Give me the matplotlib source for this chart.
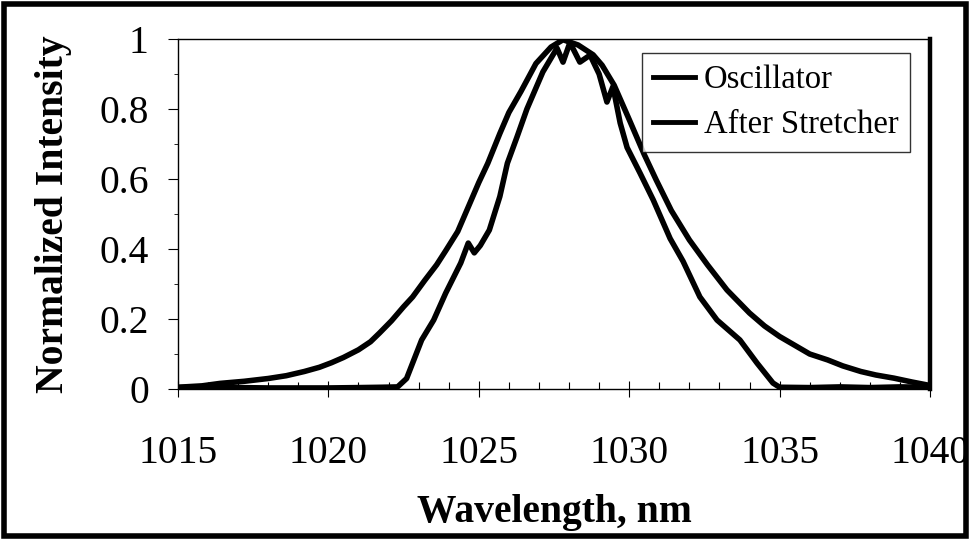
import matplotlib
matplotlib.use("Agg")
import matplotlib.pyplot as plt
from matplotlib.patches import Rectangle
from matplotlib.ticker import MultipleLocator

# 谱线数据
osc_wl = [1015.0, 1015.8, 1016.4, 1017.2, 1018.0, 1018.6, 1019.2, 1019.7, 1020.1,
          1020.5, 1021.0, 1021.4, 1021.7, 1022.1, 1022.5, 1022.8, 1023.2, 1023.6,
          1023.9, 1024.3, 1024.6, 1025.0, 1025.3, 1025.7, 1026.0, 1026.4, 1026.9,
          1027.4, 1027.8, 1028.3, 1028.8, 1029.1, 1029.5, 1030.0, 1030.5, 1030.9,
          1031.4, 1032.0, 1032.6, 1033.25, 1034.0, 1034.5, 1035.0, 1035.5, 1036.0,
          1036.6, 1037.1, 1037.7, 1038.2, 1038.8, 1039.4, 1040.0]
osc_int = [0.005, 0.009, 0.016, 0.022, 0.030, 0.038, 0.050, 0.062, 0.075,
           0.090, 0.112, 0.135, 0.160, 0.195, 0.235, 0.263, 0.310, 0.355,
           0.395, 0.450, 0.510, 0.590, 0.645, 0.730, 0.790, 0.850, 0.930,
           0.977, 0.998, 0.983, 0.955, 0.925, 0.868, 0.770, 0.670, 0.597,
           0.510, 0.426, 0.355, 0.283, 0.217, 0.180, 0.150, 0.125, 0.100,
           0.083, 0.066, 0.050, 0.040, 0.031, 0.020, 0.010]

str_wl = [1015.0, 1016.0, 1017.0, 1018.0, 1019.0, 1020.0, 1021.0, 1021.8, 1022.3,
          1022.6, 1022.8, 1023.1, 1023.5, 1023.9, 1024.4, 1024.65, 1024.85, 1025.05,
          1025.35, 1025.7, 1025.95, 1026.27, 1026.6, 1026.8, 1027.13, 1027.6, 1027.8,
          1028.03, 1028.36, 1028.7, 1029.0, 1029.26, 1029.46, 1029.7, 1029.93, 1030.36,
          1030.8, 1031.36, 1031.79, 1032.35, 1032.92, 1033.68, 1034.25, 1034.78, 1035.0,
          1036.0, 1037.0, 1038.0, 1039.0, 1040.0]
str_int = [0.004, 0.006, 0.004, 0.003, 0.003, 0.003, 0.004, 0.005, 0.006,
           0.030, 0.074, 0.140, 0.197, 0.274, 0.360, 0.417, 0.389, 0.410,
           0.454, 0.550, 0.645, 0.720, 0.800, 0.840, 0.906, 0.974, 0.934,
           0.990, 0.934, 0.954, 0.900, 0.820, 0.864, 0.760, 0.690, 0.617,
           0.540, 0.430, 0.365, 0.263, 0.197, 0.140, 0.074, 0.017, 0.005,
           0.004, 0.006, 0.004, 0.006, 0.005]

x_ticks = [1015, 1020, 1025, 1030, 1035, 1040]
y_ticks = [0, 0.2, 0.4, 0.6, 0.8, 1]
y_tick_labels = ["0", "0.2", "0.4", "0.6", "0.8", "1"]

plt.rcParams['font.family'] = ['Liberation Serif', 'DejaVu Serif']

fig = plt.figure(figsize=(9.72, 5.39), dpi=100)
ax = fig.add_axes([0.1831, 0.2783, 0.7737, 0.6493])

ax.plot(osc_wl, osc_int, color='black', lw=4, label='Oscillator')
ax.plot(str_wl, str_int, color='black', lw=4, label='After Stretcher')

ax.set_xlim(1015, 1040)
ax.set_ylim(0, 1)
ax.set_xticks(x_ticks)
ax.set_yticks(y_ticks)
ax.set_yticklabels(y_tick_labels)
ax.xaxis.set_minor_locator(MultipleLocator(1))
ax.yaxis.set_minor_locator(MultipleLocator(0.1))

ax.tick_params(axis='x', which='major', direction='inout', length=12, width=0.8,
               labelsize=28.5, pad=27)
ax.tick_params(axis='x', which='minor', direction='in', length=5, width=0.8)
ax.tick_params(axis='y', which='major', direction='out', length=7, width=0.8,
               labelsize=28.5, pad=14)
ax.tick_params(axis='y', which='minor', direction='out', length=3, width=0.6)

for s in ['left', 'bottom', 'top']:
    ax.spines[s].set_linewidth(1.0)
ax.spines['right'].set_linewidth(3.2)

ax.set_xlabel('Wavelength, nm', fontsize=28.5, fontweight='bold', labelpad=16)
ax.set_ylabel('Normalized Intensity', fontsize=28.5, fontweight='bold', labelpad=20)

leg = ax.legend(loc='upper right', bbox_to_anchor=(0.973, 0.96), fontsize=23.5,
                frameon=True, fancybox=False, edgecolor='black',
                handlelength=1.3, handletextpad=0.25, labelspacing=0.45,
                borderpad=0.35, borderaxespad=0)
leg.get_frame().set_linewidth(1.0)
for line in leg.get_lines():
    line.set_linewidth(3.5)

# 外框
fig.patches.append(Rectangle((0.004, 0.006), 0.99, 0.987, transform=fig.transFigure,
                             fill=False, edgecolor='black', linewidth=4))

fig.savefig('out.png', dpi=100)
